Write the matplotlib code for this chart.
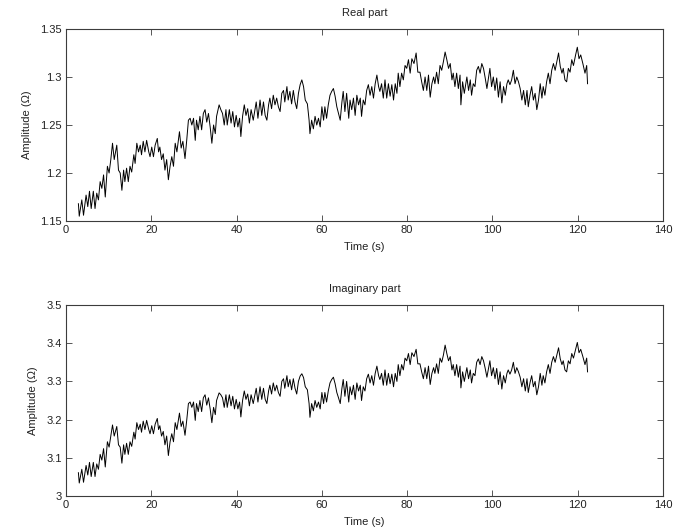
import matplotlib
matplotlib.use("Agg")
import matplotlib.pyplot as plt
import matplotlib.ticker as ticker

plt.rcParams['font.family'] = ['Liberation Sans', 'DejaVu Sans']

# time stamps (s)
time = [
    2.9, 3.1, 3.7, 4.1, 4.7, 5.1, 5.5, 5.9, 6.4, 6.8,
    7.2, 7.6, 8.0, 8.4, 8.8, 9.2, 9.7, 10.1, 10.5, 10.9,
    11.3, 11.9, 12.3, 12.7, 13.1, 13.5, 13.8, 14.2, 14.6, 15.0,
    15.4, 15.9, 16.2, 16.6, 17.0, 17.4, 17.7, 18.1, 18.5, 18.9,
    19.4, 19.7, 20.1, 20.5, 20.9, 21.4, 21.7, 22.0, 22.4, 22.8,
    23.2, 23.6, 24.0, 24.4, 24.8, 25.2, 25.6, 26.0, 26.6, 27.0,
    27.4, 27.9, 28.3, 28.7, 29.1, 29.5, 29.9, 30.3, 30.6, 31.0,
    31.4, 31.8, 32.2, 32.6, 33.0, 33.4, 33.8, 34.2, 34.6, 35.0,
    35.3, 35.9, 36.3, 36.7, 37.1, 37.5, 37.8, 38.3, 38.7, 39.1,
    39.5, 39.9, 40.3, 40.7, 41.0, 41.4, 41.8, 42.2, 42.6, 43.0,
    43.4, 43.9, 44.6, 45.0, 45.5, 45.9, 46.3, 46.7, 47.1, 47.5,
    47.8, 48.2, 48.6, 49.0, 49.4, 49.8, 50.2, 50.6, 51.0, 51.3,
    51.8, 52.1, 52.5, 52.9, 53.3, 53.7, 54.1, 54.5, 54.9, 55.3,
    55.7, 56.1, 56.6, 57.0, 57.2, 57.6, 58.0, 58.4, 58.8, 59.2,
    59.6, 60.0, 60.4, 60.7, 61.1, 61.5, 61.9, 62.3, 62.7, 63.1,
    63.5, 63.9, 64.3, 64.7, 65.0, 65.4, 65.8, 66.3, 66.6, 67.0,
    67.4, 67.8, 68.2, 68.6, 69.0, 69.3, 69.7, 70.1, 70.5, 70.9,
    71.3, 71.7, 72.1, 72.5, 72.9, 73.3, 73.6, 74.0, 74.4, 74.8,
    75.2, 75.6, 76.0, 76.4, 76.8, 77.2, 77.6, 77.9, 78.3, 78.7,
    79.1, 79.5, 79.9, 80.3, 80.7, 81.1, 81.6, 82.1, 82.5, 83.0,
    83.4, 83.8, 84.2, 84.6, 85.0, 85.4, 85.8, 86.2, 86.5, 86.9,
    87.3, 87.7, 88.1, 88.5, 88.9, 89.3, 89.7, 90.1, 90.5, 90.8,
    91.2, 91.6, 92.0, 92.4, 92.6, 93.0, 93.4, 94.0, 94.4, 94.8,
    95.1, 95.5, 95.9, 96.3, 96.7, 97.1, 97.5, 97.9, 98.3, 98.7,
    99.1, 99.4, 99.8, 100.2, 100.6, 101.0, 101.4, 101.8, 102.2, 102.6,
    103.0, 103.4, 103.7, 104.1, 104.5, 104.9, 105.3, 105.7, 106.1, 106.5,
    106.9, 107.3, 107.7, 108.1, 108.4, 108.8, 109.2, 109.6, 110.0, 110.4,
    110.8, 111.2, 111.6, 111.9, 112.3, 112.7, 113.1, 113.5, 113.9, 114.3,
    114.7, 115.1, 115.5, 115.9, 116.3, 116.6, 117.0, 117.4, 117.8, 118.2,
    118.6, 119.0, 119.5, 119.9, 120.3, 120.7, 121.2, 121.7, 122.1, 122.3,
]

real_part = [
    1.168, 1.155, 1.172, 1.156, 1.177, 1.165, 1.181, 1.163, 1.181, 1.163,
    1.179, 1.172, 1.191, 1.184, 1.198, 1.175, 1.207, 1.200, 1.214, 1.231,
    1.214, 1.229, 1.203, 1.200, 1.182, 1.203, 1.191, 1.205, 1.191, 1.207,
    1.201, 1.219, 1.210, 1.231, 1.222, 1.229, 1.219, 1.233, 1.222, 1.234,
    1.222, 1.217, 1.227, 1.217, 1.229, 1.236, 1.222, 1.227, 1.214, 1.220,
    1.203, 1.214, 1.193, 1.207, 1.217, 1.207, 1.231, 1.222, 1.243, 1.226,
    1.233, 1.215, 1.234, 1.255, 1.257, 1.250, 1.257, 1.234, 1.255, 1.245,
    1.259, 1.245, 1.262, 1.266, 1.253, 1.262, 1.248, 1.231, 1.250, 1.241,
    1.259, 1.271, 1.266, 1.262, 1.250, 1.266, 1.250, 1.266, 1.252, 1.264,
    1.248, 1.260, 1.248, 1.257, 1.238, 1.259, 1.271, 1.260, 1.267, 1.252,
    1.266, 1.255, 1.274, 1.257, 1.276, 1.260, 1.274, 1.260, 1.255, 1.271,
    1.278, 1.267, 1.281, 1.271, 1.278, 1.269, 1.264, 1.283, 1.286, 1.274,
    1.290, 1.276, 1.285, 1.272, 1.286, 1.274, 1.267, 1.283, 1.292, 1.297,
    1.290, 1.276, 1.272, 1.255, 1.241, 1.255, 1.246, 1.259, 1.250, 1.257,
    1.248, 1.269, 1.255, 1.269, 1.257, 1.271, 1.281, 1.285, 1.288, 1.280,
    1.269, 1.262, 1.255, 1.274, 1.285, 1.264, 1.283, 1.257, 1.276, 1.266,
    1.278, 1.260, 1.281, 1.271, 1.278, 1.259, 1.276, 1.271, 1.286, 1.292,
    1.281, 1.290, 1.278, 1.293, 1.302, 1.290, 1.285, 1.293, 1.278, 1.297,
    1.278, 1.293, 1.280, 1.292, 1.276, 1.293, 1.283, 1.304, 1.290, 1.304,
    1.297, 1.312, 1.309, 1.318, 1.304, 1.319, 1.314, 1.325, 1.305, 1.305,
    1.295, 1.286, 1.300, 1.286, 1.302, 1.279, 1.293, 1.300, 1.293, 1.305,
    1.293, 1.312, 1.307, 1.316, 1.326, 1.318, 1.309, 1.314, 1.297, 1.304,
    1.290, 1.304, 1.288, 1.302, 1.271, 1.295, 1.283, 1.300, 1.286, 1.297,
    1.281, 1.293, 1.290, 1.307, 1.311, 1.304, 1.314, 1.309, 1.299, 1.288,
    1.300, 1.309, 1.290, 1.300, 1.286, 1.299, 1.279, 1.295, 1.273, 1.290,
    1.281, 1.293, 1.297, 1.292, 1.297, 1.307, 1.293, 1.300, 1.295, 1.288,
    1.276, 1.286, 1.271, 1.286, 1.269, 1.281, 1.290, 1.276, 1.283, 1.266,
    1.276, 1.293, 1.278, 1.290, 1.281, 1.295, 1.304, 1.293, 1.307, 1.314,
    1.307, 1.316, 1.325, 1.311, 1.304, 1.309, 1.297, 1.295, 1.309, 1.305,
    1.318, 1.312, 1.323, 1.331, 1.319, 1.323, 1.314, 1.304, 1.312, 1.293,
]

imag_part = [
    3.061, 3.034, 3.070, 3.036, 3.080, 3.055, 3.088, 3.051, 3.088, 3.051,
    3.084, 3.070, 3.109, 3.094, 3.124, 3.076, 3.142, 3.128, 3.157, 3.186,
    3.157, 3.182, 3.134, 3.128, 3.086, 3.134, 3.109, 3.138, 3.109, 3.142,
    3.130, 3.167, 3.149, 3.192, 3.174, 3.188, 3.167, 3.196, 3.174, 3.198,
    3.174, 3.163, 3.184, 3.163, 3.188, 3.203, 3.174, 3.184, 3.157, 3.169,
    3.134, 3.157, 3.106, 3.142, 3.163, 3.142, 3.192, 3.174, 3.217, 3.182,
    3.196, 3.159, 3.198, 3.242, 3.246, 3.232, 3.246, 3.198, 3.242, 3.221,
    3.250, 3.221, 3.257, 3.265, 3.238, 3.257, 3.228, 3.192, 3.232, 3.213,
    3.250, 3.270, 3.265, 3.257, 3.232, 3.265, 3.232, 3.265, 3.236, 3.261,
    3.228, 3.253, 3.228, 3.246, 3.207, 3.250, 3.275, 3.253, 3.267, 3.236,
    3.265, 3.242, 3.282, 3.246, 3.286, 3.253, 3.282, 3.253, 3.242, 3.275,
    3.290, 3.267, 3.296, 3.275, 3.290, 3.271, 3.261, 3.300, 3.307, 3.282,
    3.315, 3.286, 3.305, 3.278, 3.307, 3.282, 3.267, 3.300, 3.314, 3.320,
    3.310, 3.286, 3.278, 3.242, 3.206, 3.242, 3.223, 3.250, 3.232, 3.246,
    3.228, 3.271, 3.242, 3.271, 3.246, 3.275, 3.296, 3.305, 3.311, 3.294,
    3.271, 3.257, 3.242, 3.282, 3.305, 3.261, 3.300, 3.246, 3.286, 3.265,
    3.290, 3.253, 3.296, 3.275, 3.290, 3.250, 3.286, 3.275, 3.307, 3.319,
    3.296, 3.315, 3.290, 3.321, 3.340, 3.315, 3.305, 3.321, 3.290, 3.330,
    3.290, 3.321, 3.294, 3.319, 3.286, 3.321, 3.300, 3.344, 3.315, 3.344,
    3.330, 3.361, 3.354, 3.373, 3.344, 3.375, 3.365, 3.384, 3.346, 3.346,
    3.325, 3.307, 3.336, 3.307, 3.340, 3.292, 3.321, 3.336, 3.321, 3.346,
    3.321, 3.361, 3.350, 3.369, 3.395, 3.373, 3.354, 3.365, 3.330, 3.344,
    3.315, 3.344, 3.311, 3.340, 3.283, 3.325, 3.300, 3.336, 3.307, 3.330,
    3.296, 3.321, 3.315, 3.350, 3.359, 3.344, 3.365, 3.354, 3.334, 3.311,
    3.336, 3.354, 3.315, 3.336, 3.307, 3.334, 3.292, 3.325, 3.280, 3.315,
    3.296, 3.321, 3.330, 3.319, 3.330, 3.350, 3.321, 3.336, 3.325, 3.311,
    3.286, 3.307, 3.275, 3.307, 3.271, 3.296, 3.315, 3.286, 3.300, 3.265,
    3.286, 3.321, 3.290, 3.315, 3.296, 3.325, 3.344, 3.321, 3.350, 3.365,
    3.350, 3.369, 3.388, 3.359, 3.344, 3.354, 3.330, 3.325, 3.354, 3.346,
    3.373, 3.361, 3.384, 3.402, 3.375, 3.384, 3.365, 3.344, 3.361, 3.325,
]

x_ticks = [0, 20, 40, 60, 80, 100, 120, 140]
real_ticks = [1.15, 1.2, 1.25, 1.3, 1.35]
imag_ticks = [3.0, 3.1, 3.2, 3.3, 3.4, 3.5]

SPINE = "#3c3c3c"
TXT = "#222222"
FS = 8

fig = plt.figure(figsize=(6.9, 5.31), dpi=100)
fig.patch.set_facecolor("white")

ax1 = fig.add_axes([0.0957, 0.5838, 0.8652, 0.3616])
ax2 = fig.add_axes([0.0957, 0.0659, 0.8652, 0.3597])

panels = [
    (ax1, real_part, real_ticks, "Real part"),
    (ax2, imag_part, imag_ticks, "Imaginary part"),
]

for ax, vals, yt, title in panels:
    ax.plot(time, vals, color="black", linewidth=0.7)
    ax.set_xlim(0, 140)
    ax.set_ylim(yt[0], yt[-1])
    ax.set_xticks(x_ticks)
    ax.set_yticks(yt)
    ax.yaxis.set_major_formatter(ticker.FuncFormatter(lambda v, p: "%g" % round(v, 3)))
    ax.tick_params(direction="in", length=4, width=0.6, top=True, right=True,
                   labelsize=FS, colors=SPINE, labelcolor=TXT, pad=3)
    for s in ax.spines.values():
        s.set_color(SPINE)
        s.set_linewidth(0.8)
    ax.set_title(title, fontsize=FS, color=TXT, pad=9.5)
    ax.set_xlabel("Time (s)", fontsize=FS, color=TXT, labelpad=5)
    ax.set_ylabel("Amplitude (\u03a9)", fontsize=FS, color=TXT, labelpad=6)

fig.savefig("out.png", dpi=100, facecolor="white")
